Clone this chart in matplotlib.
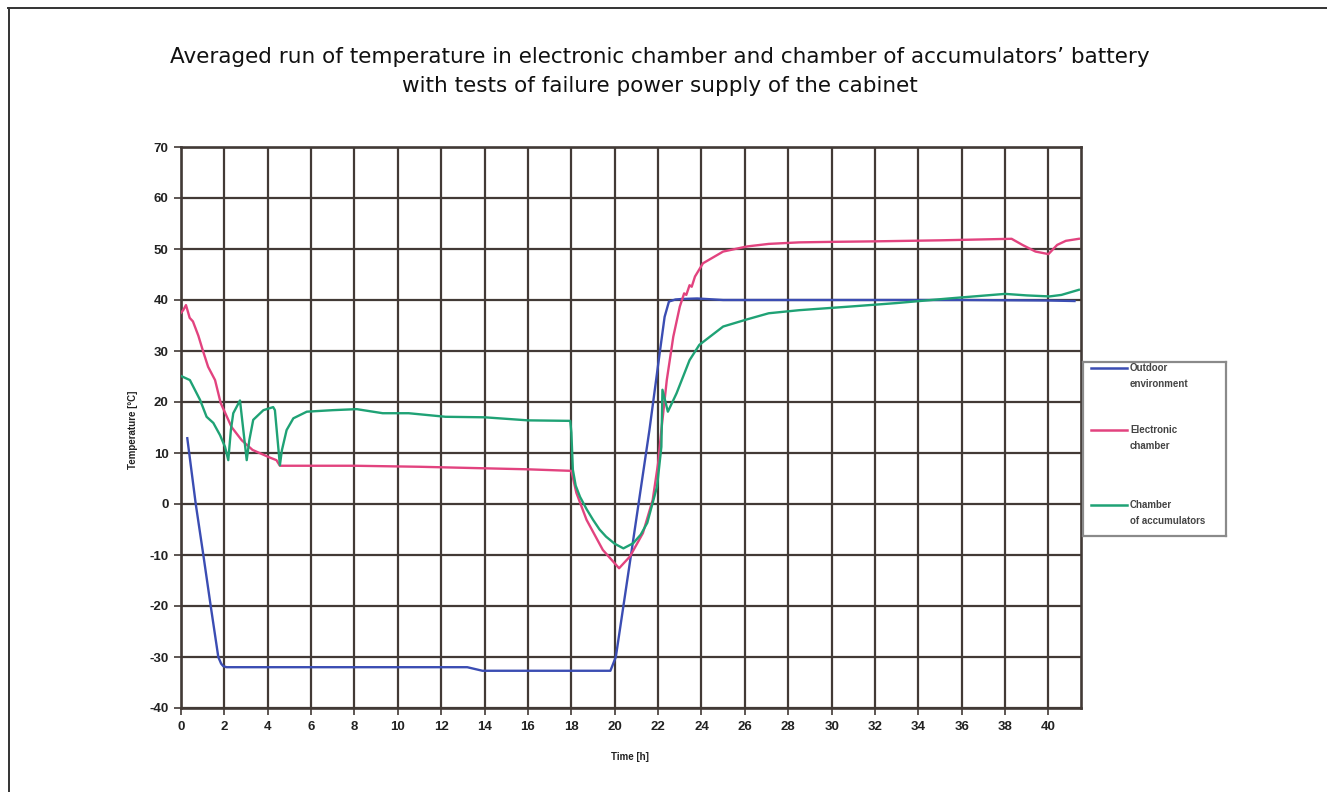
import matplotlib
matplotlib.use("Agg")
import matplotlib.pyplot as plt
import numpy as np

# ---------------- data ----------------
title_lines = ["Averaged run of temperature in electronic chamber and chamber of accumulators\u2019 battery",
               "with tests of failure power supply of the cabinet"]
x_ticks = list(range(0, 41, 2))
y_ticks = list(range(-40, 71, 10))
series_names = ["Outdoor\nenvironment", "Electronic\nchamber", "Chamber\nof accumulators"]
series_colors = ["#3b4db3", "#e2437f", "#1fa275"]

outdoor_t = [0.29, 0.68, 1.03, 1.37, 1.72, 1.85, 1.95, 2.1, 4, 8, 12, 13.2, 13.9, 16, 19.8, 20.05,
             20.75, 21.6, 22.07, 22.3, 22.5, 22.8, 23.1, 23.8, 25, 30, 36, 40, 41.2]
outdoor_v = [12.9, 0, -10, -20, -30, -31.3, -31.8, -32, -32, -32, -32, -32, -32.7, -32.7, -32.7, -30,
             -10, 14.5, 29.5, 36.7, 39.7, 40.1, 40.2, 40.3, 40, 40, 40, 39.9, 39.8]

elec_t = [0.0, 0.1, 0.23, 0.4, 0.55, 0.8, 1.0, 1.25, 1.57, 1.83, 2.33, 2.8, 3.3, 4.1, 4.4, 4.56, 6, 8,
          11, 14, 16, 18.0, 18.23, 18.7, 19.45, 20.2, 20.7, 21.3, 21.75, 22.0, 22.15, 22.4, 22.7,
          23.0, 23.2, 23.3, 23.45, 23.55, 23.7, 24.07, 25.0, 26.1, 27.1, 28.5, 30, 32, 35, 38.3,
          38.8, 39.4, 40.0, 40.4, 40.8, 41.4]
elec_v = [37.5, 38.0, 39.0, 36.5, 35.8, 33.0, 30.2, 26.9, 24.3, 19.8, 15.1, 12.5, 10.6, 9.1, 8.6, 7.5,
          7.5, 7.5, 7.3, 7.0, 6.8, 6.5, 2.2, -3.1, -9.0, -12.6, -10.3, -5.7, 0.8, 8.0, 14.5, 24.3,
          32.8, 38.7, 41.3, 41.0, 42.9, 42.6, 44.6, 47.2, 49.5, 50.5, 51.0, 51.3, 51.4, 51.5, 51.7,
          52.0, 50.8, 49.5, 49.0, 50.8, 51.6, 52.0]

accu_t = [0.0, 0.41, 0.88, 1.18, 1.49, 1.8, 2.03, 2.18, 2.3, 2.41, 2.72, 3.03, 3.15, 3.33, 3.8, 4.25,
          4.33, 4.56, 4.65, 4.87, 5.18, 5.8, 7.0, 8.1, 9.3, 10.5, 12.2, 14, 16, 17.95, 18.0, 18.07,
          18.2, 18.4, 18.7, 19.0, 19.3, 19.6, 20.0, 20.4, 20.85, 21.2, 21.5, 21.95, 22.15, 22.2,
          22.45, 22.85, 23.45, 23.9, 25.0, 26.1, 27.1, 28.5, 30.8, 33, 35.4, 38.0, 39.0, 40.05,
          40.6, 41.4]
accu_v = [25.1, 24.3, 20.4, 17.1, 15.9, 13.5, 11.2, 8.6, 14.5, 17.8, 20.3, 8.6, 12.5, 16.5, 18.4, 19.0,
          18.4, 7.6, 10.5, 14.5, 16.8, 18.1, 18.4, 18.6, 17.8, 17.8, 17.1, 17.0, 16.4, 16.3, 14.0, 6.7,
          3.6, 1.4, -1.0, -3.1, -5.0, -6.4, -7.8, -8.7, -7.7, -6.0, -3.7, 3.4, 11.2, 22.4,
          18.1, 21.7, 28.2, 31.2, 34.8, 36.2, 37.4, 38.0, 38.7, 39.4, 40.3, 41.2, 40.9, 40.7,
          41.0, 42.0]

series_t = [outdoor_t, elec_t, accu_t]
series_v = [outdoor_v, elec_v, accu_v]

# ---------------- figure ----------------
W, H = 1327, 792
fig = plt.figure(figsize=(W / 100, H / 100), dpi=100)
fig.patch.set_facecolor("white")

# outer frame (top + left)
frame_col = "#333333"
fig.add_artist(plt.Line2D([8 / W, 1.0], [1 - 8 / H, 1 - 8 / H], color=frame_col, lw=1.4))
fig.add_artist(plt.Line2D([9 / W, 9 / W], [0.0, 1 - 8 / H], color=frame_col, lw=1.4))

# title
fig.text(660 / W, 1 - 57 / H, title_lines[0], ha="center", va="center",
         fontsize=15.5, family="DejaVu Sans", color="#111111")
fig.text(660 / W, 1 - 86 / H, title_lines[1], ha="center", va="center",
         fontsize=15.5, family="DejaVu Sans", color="#111111")

# main axes
left, right, top, bottom = 181, 1081, 147, 708
ax = fig.add_axes([left / W, 1 - bottom / H, (right - left) / W, (bottom - top) / H])
grid_col = "#423a36"
for i, (t, v) in enumerate(zip(series_t, series_v)):
    ax.plot(t, v, color=series_colors[i], lw=1.7, zorder=3)

ax.set_xlim(0, 41.5)
ax.set_ylim(-40, 70)
ax.set_xticks(x_ticks)
ax.set_yticks(y_ticks)
ax.set_xticklabels([str(v) for v in x_ticks])
ax.set_yticklabels([str(v) for v in y_ticks])
ax.grid(True, color=grid_col, lw=1.6, zorder=1)
ax.set_axisbelow(True)
for s in ax.spines.values():
    s.set_color(grid_col)
    s.set_linewidth(1.9)
ax.tick_params(axis="both", direction="out", length=5, width=1.2, color=grid_col,
               labelsize=9.5, labelcolor="#222222", pad=4)
for lab in ax.get_xticklabels() + ax.get_yticklabels():
    lab.set_fontweight("bold")
    lab.set_family("Liberation Sans")

fig.text(133 / W, 1 - 430 / H, "Temperature [\u00b0C]", rotation=90, ha="center", va="center",
         fontsize=7, fontweight="bold", family="Liberation Sans", color="#222222")
fig.text(630 / W, 1 - 757 / H, "Time [h]", ha="center", va="center",
         fontsize=7, fontweight="bold", family="Liberation Sans", color="#222222")

# legend box
lx0, ly0, lx1, ly1 = 1083, 362, 1226, 536
lax = fig.add_axes([lx0 / W, 1 - ly1 / H, (lx1 - lx0) / W, (ly1 - ly0) / H])
lax.set_xlim(lx0, lx1)
lax.set_ylim(ly1, ly0)
lax.set_xticks([])
lax.set_yticks([])
for s in lax.spines.values():
    s.set_color("#8a8a8a")
    s.set_linewidth(1.6)
entry_y = [368, 430, 505]
for name, col, yy in zip(series_names, series_colors, entry_y):
    lax.plot([1091, 1127], [yy, yy], color=col, lw=1.8)
    first, second = name.split("\n")
    lax.text(1130, yy, first, ha="left", va="center", fontsize=7, family="Liberation Sans",
             fontweight="bold", color="#444444")
    lax.text(1130, yy + 16, second, ha="left", va="center", fontsize=7, family="Liberation Sans",
             fontweight="bold", color="#444444")

fig.savefig("out.png", dpi=100, facecolor="white")
